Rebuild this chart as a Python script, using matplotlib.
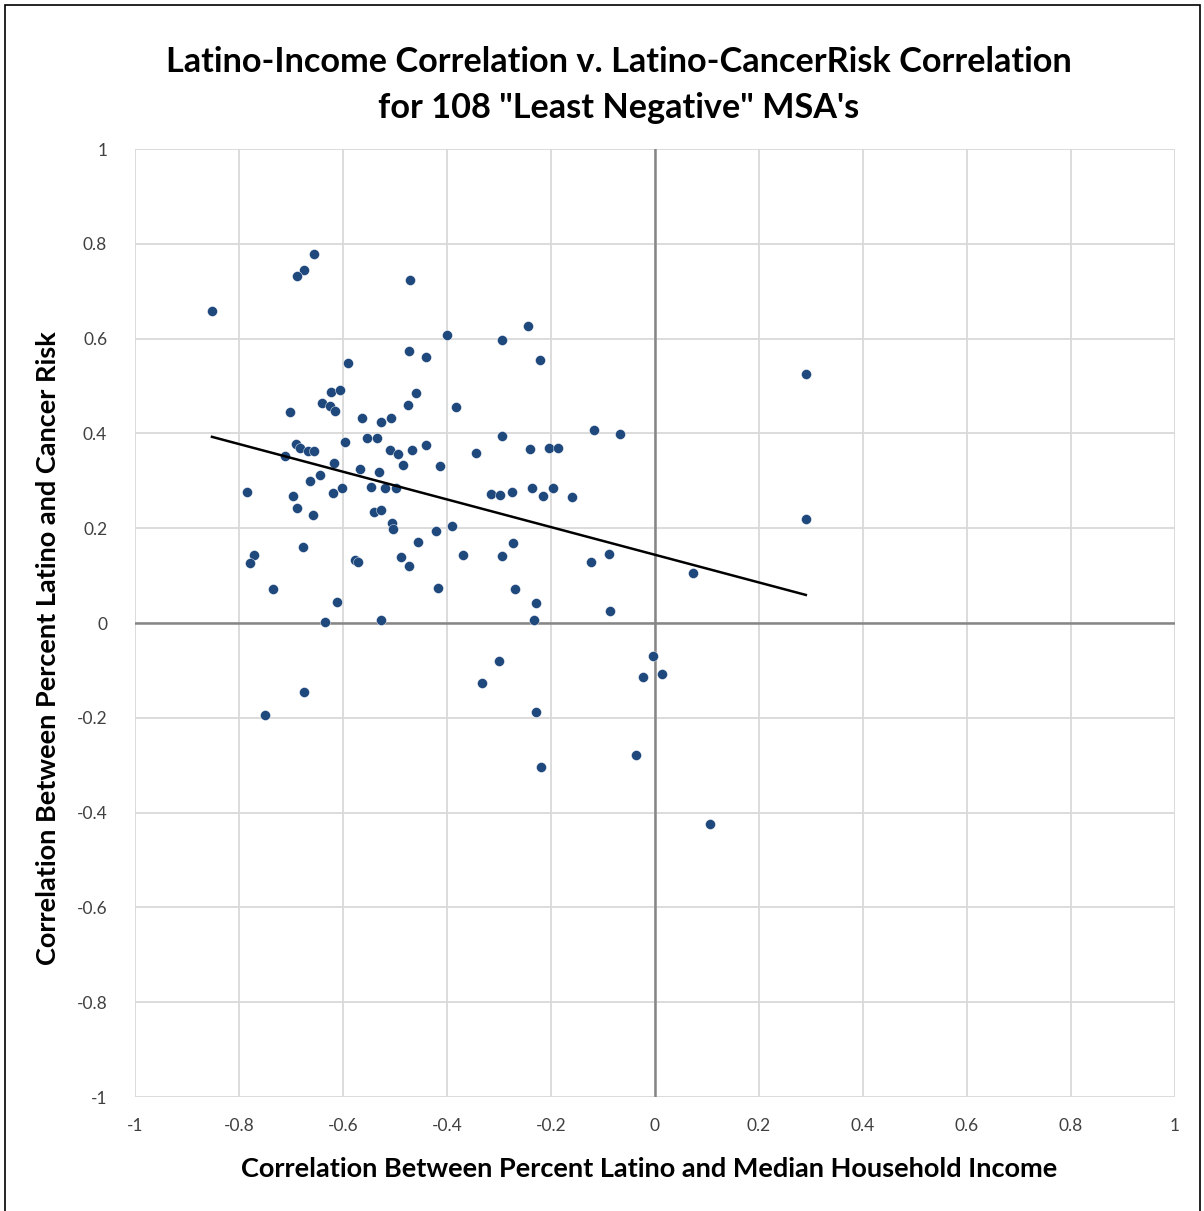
import numpy as np
import matplotlib
matplotlib.use("Agg")
import matplotlib.pyplot as plt
from matplotlib.patches import Rectangle

# correlation of % Latino with median household income (x) and with cancer risk (y), one pair per MSA
income_corr = [
    -0.852, -0.656, -0.675, -0.688, -0.471, -0.244, -0.400, -0.294, -0.221, -0.473,
    -0.440, -0.590, -0.623, -0.606, -0.460, -0.640, -0.625, -0.615, -0.702, -0.475,
    -0.383, -0.563, -0.508, -0.527, 0.290, -0.117, -0.067, -0.294, -0.535, -0.554,
    -0.596, -0.440, -0.690, -0.683, -0.667, -0.656, -0.510, -0.467, -0.240, -0.204,
    -0.187, -0.344, -0.494, -0.712, -0.617, -0.644, -0.663, -0.567, -0.531, -0.485,
    -0.413, -0.785, -0.696, -0.619, -0.602, -0.546, -0.519, -0.498, -0.689, -0.658,
    -0.540, -0.527, -0.506, -0.504, -0.421, -0.456, -0.677, -0.771, -0.779, -0.577,
    -0.571, -0.488, -0.473, -0.735, -0.417, -0.612, -0.635, -0.527, -0.315, -0.298,
    -0.275, -0.236, -0.215, -0.196, -0.160, -0.390, -0.369, -0.294, -0.273, -0.123,
    -0.088, -0.269, -0.229, -0.233, -0.087, -0.750, -0.675, -0.333, -0.300, -0.229,
    -0.219, -0.037, -0.023, -0.004, 0.013, 0.073, 0.290, 0.106,
]
cancer_corr = [
    0.658, 0.778, 0.745, 0.732, 0.724, 0.627, 0.608, 0.597, 0.555, 0.574,
    0.561, 0.549, 0.487, 0.492, 0.485, 0.464, 0.458, 0.447, 0.445, 0.460,
    0.456, 0.432, 0.432, 0.424, 0.525, 0.407, 0.399, 0.395, 0.390, 0.390,
    0.382, 0.376, 0.378, 0.369, 0.363, 0.363, 0.365, 0.365, 0.367, 0.369,
    0.369, 0.359, 0.357, 0.352, 0.338, 0.312, 0.300, 0.325, 0.319, 0.333,
    0.331, 0.276, 0.268, 0.274, 0.285, 0.287, 0.285, 0.285, 0.243, 0.228,
    0.234, 0.238, 0.211, 0.198, 0.194, 0.171, 0.160, 0.143, 0.127, 0.133,
    0.129, 0.139, 0.120, 0.072, 0.074, 0.044, 0.002, 0.006, 0.272, 0.270,
    0.276, 0.285, 0.268, 0.285, 0.266, 0.205, 0.143, 0.141, 0.169, 0.129,
    0.146, 0.072, 0.042, 0.006, 0.025, -0.194, -0.145, -0.127, -0.080, -0.188,
    -0.304, -0.278, -0.114, -0.070, -0.108, 0.105, 0.219, -0.424,
]
ticks = [-1, -0.8, -0.6, -0.4, -0.2, 0, 0.2, 0.4, 0.6, 0.8, 1]
tick_labels = ["-1", "-0.8", "-0.6", "-0.4", "-0.2", "0", "0.2", "0.4", "0.6", "0.8", "1"]

x = np.array(income_corr)
y = np.array(cancer_corr)

plt.rcParams["font.family"] = ["Lato", "DejaVu Sans"]

fig = plt.figure(figsize=(12.04, 12.11), dpi=100)
fig.patches.append(Rectangle((5 / 1204, -0.01), 1195 / 1204, 1.01 - 5 / 1211,
                             transform=fig.transFigure, fill=False,
                             edgecolor="black", linewidth=1.2))
ax = fig.add_axes([135 / 1204, 1 - 1097 / 1211, 1040 / 1204, 948 / 1211])

ax.set_xlim(-1, 1)
ax.set_ylim(-1, 1)
ax.set_xticks(ticks)
ax.set_yticks(ticks)
ax.set_xticklabels(tick_labels, fontsize=12.5, color="#404040")
ax.set_yticklabels(tick_labels, fontsize=12.5, color="#404040")
ax.tick_params(axis="x", length=0, pad=15)
ax.tick_params(axis="y", length=0, pad=20)
for s in ax.spines.values():
    s.set_visible(False)
ax.grid(True, color="#d9d9d9", linewidth=1.3)
ax.set_axisbelow(True)
ax.axhline(0, color="#868686", linewidth=1.8, zorder=1)
ax.axvline(0, color="#868686", linewidth=1.8, zorder=1)

ax.plot(x, y, "o", color="#1f497d", markersize=7.2, markeredgewidth=0.3,
        markeredgecolor="white", zorder=3)

# linear trendline over the data range
k, b = np.polyfit(x, y, 1)
xt = np.array([x.min(), x.max()])
ax.plot(xt, k * xt + b, color="black", linewidth=1.8, zorder=4)

fig.text(619 / 1204, 1 - 85 / 1211,
         "Latino-Income Correlation v. Latino-CancerRisk Correlation\nfor 108 \"Least Negative\" MSA's",
         ha="center", va="center", fontsize=24.7, fontweight="bold",
         linespacing=1.55, color="black")
ax.set_xlabel("Correlation Between Percent Latino and Median Household Income",
              fontsize=19.5, fontweight="bold")
ax.set_ylabel("Correlation Between Percent Latino and Cancer Risk",
              fontsize=19.5, fontweight="bold")
ax.xaxis.set_label_coords(0.494, -0.063)
ax.yaxis.set_label_coords(-0.072, 0.474)

fig.savefig("out.png", dpi=100)
